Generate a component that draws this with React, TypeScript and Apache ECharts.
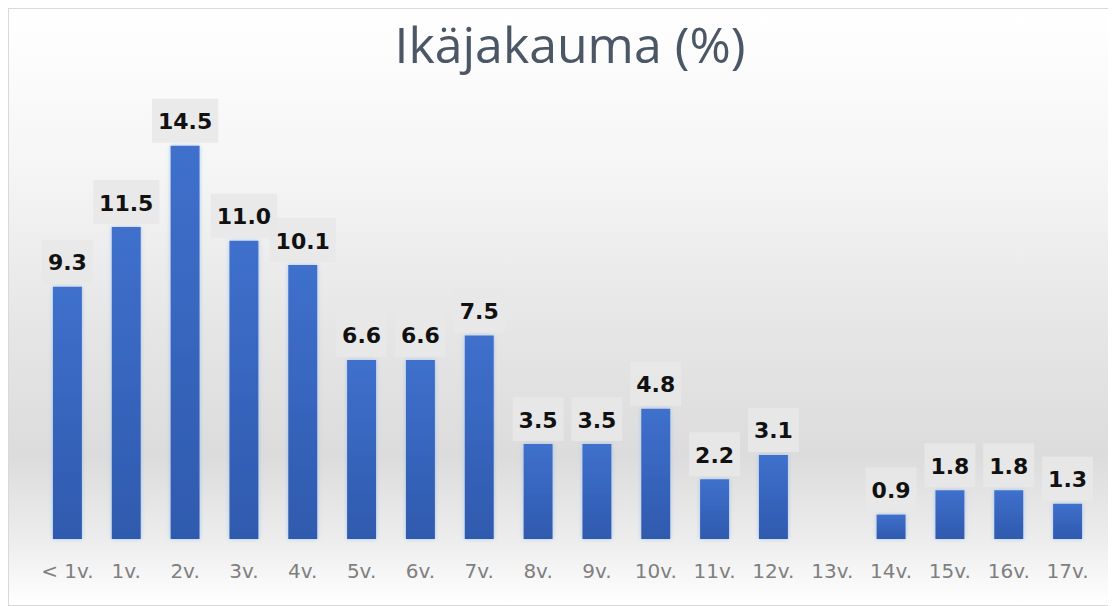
import React, { useEffect, useRef } from "react";
import * as echarts from "echarts";

const TITLE = "Ikäjakauma (%)";
const categories = ["< 1v.", "1v.", "2v.", "3v.", "4v.", "5v.", "6v.", "7v.", "8v.", "9v.", "10v.", "11v.", "12v.", "13v.", "14v.", "15v.", "16v.", "17v."];
const values: (number | null)[] = [9.3, 11.5, 14.5, 11.0, 10.1, 6.6, 6.6, 7.5, 3.5, 3.5, 4.8, 2.2, 3.1, null, 0.9, 1.8, 1.8, 1.3];

export default function App() {
  const ref = useRef<HTMLDivElement>(null);
  useEffect(() => {
    if (!ref.current) return;
    const chart = echarts.init(ref.current, undefined, { renderer: "svg" });
    chart.setOption({
      animation: false,
      backgroundColor: new echarts.graphic.LinearGradient(0, 0, 0, 1, [
        { offset: 0, color: "#ffffff" },
        { offset: 0.25, color: "#f6f6f6" },
        { offset: 0.55, color: "#e5e5e5" },
        { offset: 0.75, color: "#dcdcdc" },
        { offset: 0.9, color: "#eeeeee" },
        { offset: 1, color: "#ffffff" },
      ]),
      graphic: [
        {
          type: "text",
          x: 561,
          y: 35,
          style: {
            text: TITLE,
            font: '400 50px "Open Sans"',
            fill: "#4c5766",
            textAlign: "center",
            textVerticalAlign: "middle",
          },
        },
      ],
      grid: { left: 29, right: 18, top: 96, bottom: 66, containLabel: false },
      xAxis: {
        type: "category",
        data: categories,
        axisLine: { show: false },
        axisTick: { show: false },
        axisLabel: {
          color: "#7f7f7f",
          fontFamily: "DejaVu Sans",
          fontSize: 20,
          margin: 22,
          interval: 0,
        },
      },
      yAxis: {
        type: "value",
        min: 0,
        max: 16,
        show: false,
        splitLine: { show: false },
      },
      series: [
        {
          type: "bar",
          data: values,
          barWidth: 29,
          itemStyle: {
            color: new echarts.graphic.LinearGradient(0, 0, 0, 1, [
              { offset: 0, color: "#3f70cc" },
              { offset: 1, color: "#2f5aae" },
            ]),
            shadowBlur: 4,
            shadowColor: "rgba(140,185,240,0.7)",
          },
          label: {
            show: true,
            position: "top",
            distance: 3,
            formatter: (p: any) => (p.value == null ? "" : Number(p.value).toFixed(1)),
            fontFamily: "DejaVu Sans",
            fontWeight: "bold",
            fontSize: 22,
            color: "#111111",
            backgroundColor: "rgba(232,232,232,0.9)",
            padding: [12, 6, 10, 6],
          },
        },
      ],
    });
    return () => chart.dispose();
  }, []);
  return (
    <div style={{ width: 1108, height: 598, border: "1px solid #d9d9d9", boxSizing: "border-box" }}>
      <div ref={ref} style={{ width: 1106, height: 596 }} />
    </div>
  );
}
